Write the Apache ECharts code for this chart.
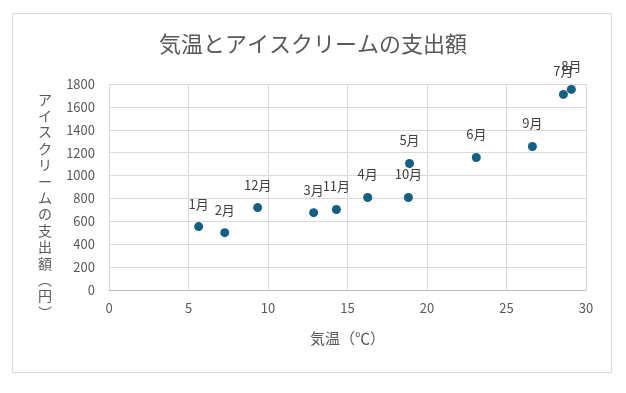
<!DOCTYPE html>
<html>
<head>
<meta charset="utf-8">
<script src="https://cdn.jsdelivr.net/npm/echarts@6/dist/echarts.min.js"></script>
<style>html,body{margin:0;padding:0;background:#fff}#c{width:626px;height:393px}</style>
</head>
<body>
<div id="c"></div>
<script>
const months = ['1月','2月','3月','4月','5月','6月','7月','8月','9月','10月','11月','12月'];
const temps = [5.64, 7.28, 12.87, 16.27, 18.9, 23.1, 28.58, 29.08, 26.63, 18.83, 14.3, 9.35];
const spending = [554, 501, 676, 808, 1105, 1158, 1709, 1753, 1254, 808, 703, 720];
const titleText = '気温とアイスクリームの支出額';
const xName = '気温（℃）';
const yNameChars = ['ア','イ','ス','ク','リ','ー','ム','の','支','出','額','︵','円','︶'];

const FONT = '"Noto Sans CJK JP", "Noto Sans", sans-serif';
const points = temps.map((t, i) => ({ value: [t, spending[i]], name: months[i] }));

const chart = echarts.init(document.getElementById('c'), null, { renderer: 'canvas' });
chart.setOption({
  backgroundColor: '#ffffff',
  animation: false,
  textStyle: { fontFamily: FONT },
  title: {
    text: titleText,
    left: 'center',
    top: 28,
    textStyle: { fontFamily: FONT, fontSize: 22, fontWeight: 'normal', color: '#595959' }
  },
  graphic: [{
    type: 'rect',
    shape: { x: 12.5, y: 13.5, width: 599, height: 359 },
    style: { fill: 'none', stroke: '#d9d9d9', lineWidth: 1 },
    silent: true
  }, {
    type: 'text',
    x: 45, y: 91,
    style: {
      text: yNameChars.join('\n'),
      align: 'center', verticalAlign: 'top',
      font: '14px ' + FONT, lineHeight: 16.4,
      fill: '#595959'
    },
    silent: true
  }],
  grid: { left: 109, right: 40, top: 84, bottom: 103, containLabel: false },
  xAxis: {
    type: 'value', min: 0, max: 30, interval: 5,
    name: xName, nameLocation: 'middle', nameGap: 41,
    nameTextStyle: { fontFamily: FONT, fontSize: 15, color: '#595959' },
    axisLine: { show: true, lineStyle: { color: '#bfbfbf' } },
    axisTick: { show: false },
    axisLabel: { fontFamily: FONT, fontSize: 13, color: '#595959', margin: 12 },
    splitLine: { show: true, lineStyle: { color: '#d9d9d9' } }
  },
  yAxis: {
    type: 'value', min: 0, max: 1800, interval: 200,
    axisLine: { show: false },
    axisTick: { show: false },
    axisLabel: { fontFamily: FONT, fontSize: 13, color: '#595959', margin: 14, formatter: v => String(v) },
    splitLine: { show: true, lineStyle: { color: '#d9d9d9' } }
  },
  series: [{
    type: 'scatter',
    data: points,
    symbol: 'circle',
    symbolSize: 9,
    itemStyle: { color: '#156082', opacity: 1 },
    label: {
      show: true, position: 'top', distance: 12,
      formatter: p => p.name,
      fontFamily: FONT, fontSize: 13, color: '#404040'
    },
    labelLayout: { hideOverlap: false }
  }]
});
</script>
</body>
</html>
